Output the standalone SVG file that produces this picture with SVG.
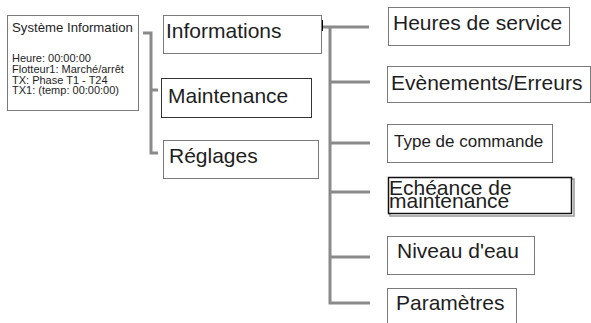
<svg xmlns="http://www.w3.org/2000/svg" width="591" height="323" viewBox="0 0 591 323">
<style>
text{font-family:"Liberation Sans",Arial,sans-serif;fill:#1e1e1e}
.box{fill:#fff;stroke:#7a7a7a;stroke-width:1}
.dark{fill:#fff;stroke:#333;stroke-width:1}
.big{font-size:21px}
.mid{font-size:17px}
.sm{font-size:11px}
.conn{fill:none;stroke:#8a8a8a;stroke-width:3}
</style>
<rect width="591" height="323" fill="#fff"/>
<g id="connectors">
<polyline class="conn" points="143,33 151,33 151,153 158,153"/>
<line class="conn" x1="151" y1="90" x2="158" y2="90"/>
<polyline class="conn" points="323,27 369,27"/>
<polyline class="conn" points="330,27 330,303 370,303"/>
<line class="conn" x1="330" y1="82" x2="370" y2="82"/>
<line class="conn" x1="330" y1="143" x2="370" y2="143"/>
<line class="conn" x1="330" y1="192" x2="370" y2="192"/>
<line class="conn" x1="330" y1="257" x2="370" y2="257"/>
<line x1="322" y1="20" x2="322" y2="31" stroke="#000" stroke-width="2"/>
</g>
<g id="systeme">
<rect class="box" x="7.5" y="15.5" width="131" height="95" stroke="#555"/>
<text x="12" y="32" font-size="13.2">Système Information</text>
<text class="sm" x="12" y="62">Heure: 00:00:00</text>
<text class="sm" x="12" y="73">Flotteur1: Marché/arrêt</text>
<text class="sm" x="12" y="83.5">TX: Phase T1 - T24</text>
<text class="sm" x="12" y="94">TX1: (temp: 00:00:00)</text>
</g>
<g id="informations">
<rect class="box" x="163.5" y="15.5" width="158" height="38"/>
<text class="big" x="166" y="38">Informations</text>
</g>
<g id="maintenance">
<rect class="dark" x="161.5" y="78.5" width="150" height="39"/>
<text class="big" x="168" y="103">Maintenance</text>
</g>
<g id="reglages">
<rect class="box" x="163.5" y="140.5" width="155" height="38"/>
<text class="big" x="169" y="163">Réglages</text>
</g>
<g id="heures">
<rect class="box" x="388.5" y="7.5" width="181" height="38"/>
<text class="big" x="393" y="30">Heures de service</text>
</g>
<g id="evenements">
<rect class="box" x="387.5" y="66.5" width="203" height="36"/>
<text class="big" x="391" y="90">Evènements/Erreurs</text>
</g>
<g id="type">
<rect class="box" x="387.5" y="124.5" width="165" height="38"/>
<text class="mid" x="394" y="147">Type de commande</text>
</g>
<g id="echeance">
<rect x="390" y="179" width="184" height="37" fill="none" stroke="#999" stroke-width="1.5"/>
<rect x="388.5" y="177.5" width="183" height="36" fill="#fff" stroke="#111" stroke-width="1.5"/>
<text class="big" x="389" y="194.5">Echéance de</text>
<text class="big" x="389" y="208">maintenance</text>
</g>
<g id="niveau">
<rect class="box" x="387.5" y="236.5" width="147" height="38"/>
<text class="big" x="397" y="258">Niveau d'eau</text>
</g>
<g id="parametres">
<rect class="box" x="387.5" y="288.5" width="129" height="50"/>
<text class="big" x="396" y="310">Paramètres</text>
</g>
</svg>
